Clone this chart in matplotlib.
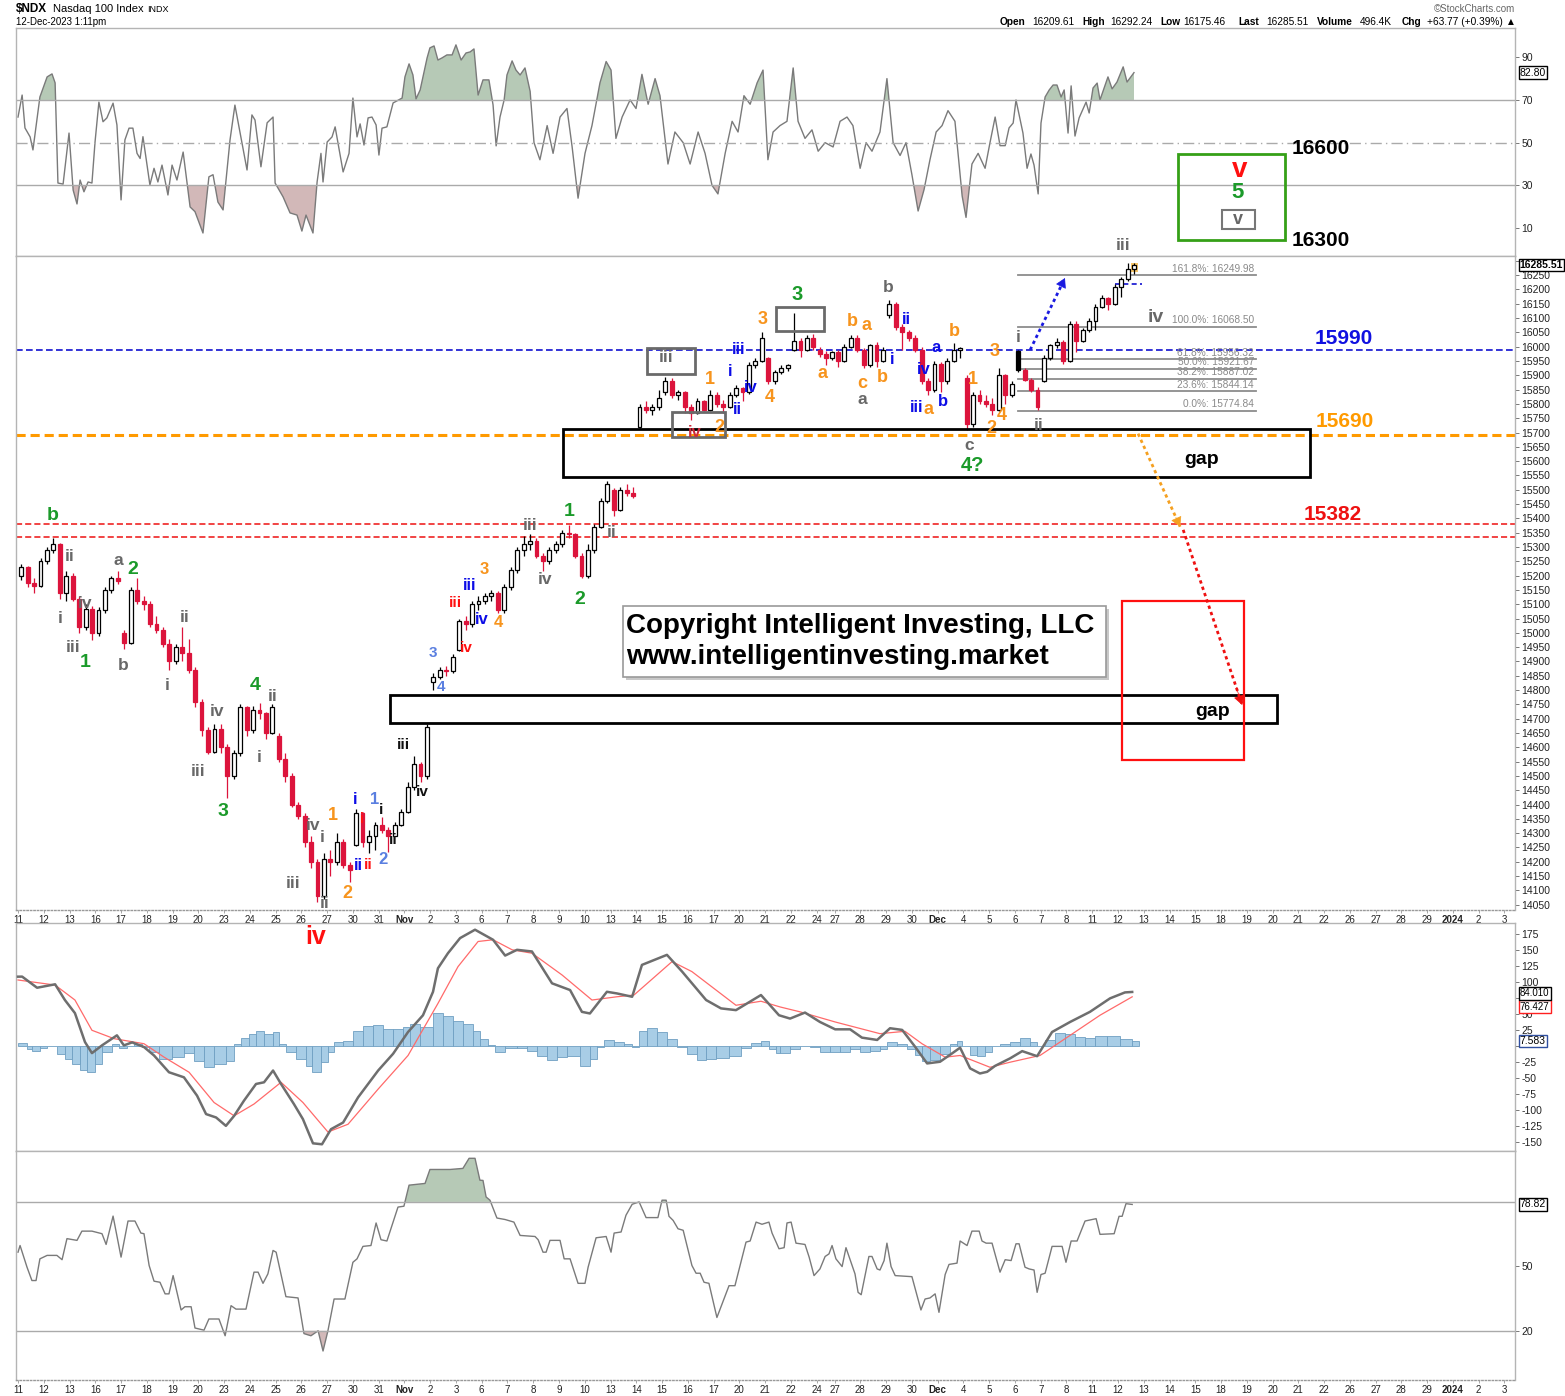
import numpy as np
import matplotlib
matplotlib.use('Agg')
import matplotlib.pyplot as plt
from matplotlib.patches import Rectangle

W, H = 1565, 1396
plt.rcParams['font.family'] = ['Liberation Sans', 'DejaVu Sans']

# ---------------- calendar (trading days) ----------------
day_labels = ['11', '12', '13', '16', '17', '18', '19', '20', '23', '24', '25', '26', '27', '30', '31',
              'Nov', '2', '3', '6', '7', '8', '9', '10', '13', '14', '15', '16', '17', '20', '21', '22',
              '24', '27', '28', '29', '30', 'Dec', '4', '5', '6', '7', '8', '11', '12',
              '13', '14', '15', '18', '19', '20', '21', '22', '26', '27', '28', '29', '2024', '2', '3']
day_lengths = [1] * 31 + [0.7] + [1] * 12 + [1] * 15
bars_per_day = [4] * 31 + [3] + [4] * 11 + [3]

# ---------------- price candles (4 per session, Nov 24 & Dec 12 partial) ----------------
opens = [15200, 15230, 15175, 15165, 15250, 15290, 15310, 15140, 15200, 15120, 15020, 15085,
         15000, 15080, 15150, 15190, 15000, 14965, 15150, 15110, 15100, 15030, 15010, 14960,
         14900, 14950, 14930, 14870, 14760, 14660, 14585, 14665, 14600, 14500, 14580, 14740,
         14660, 14730, 14720, 14650, 14640, 14560, 14500, 14400, 14360, 14270, 14200, 14080,
         14210, 14200, 14270, 14190, 14260, 14370, 14270, 14290, 14330, 14310, 14290, 14330,
         14375, 14460, 14540, 14500, 14830, 14845, 14870, 14865, 14940, 15040, 15030, 15100,
         15110, 15130, 15140, 15080, 15160, 15220, 15290, 15310, 15320, 15270, 15250, 15290,
         15310, 15350, 15345, 15270, 15200, 15290, 15370, 15460, 15500, 15430, 15500, 15490,
         15720, 15790, 15780, 15790, 15840, 15880, 15830, 15840, 15790, 15770, 15810, 15780,
         15830, 15800, 15790, 15830, 15855, 15840, 15935, 15950, 15960, 15880, 15910, 15925,
         15990, 16020, 15990, 16030, 15990, 15975, 15960, 15980, 15950, 16000, 16030,
         15990, 15935, 16005, 15950, 16110, 16150, 16070, 16050, 16030, 15990, 15880, 15850,
         15940, 15880, 15950, 15990, 15890, 15730, 15830, 15810, 15800, 15780, 15900, 15830,
         15985, 15920, 15885, 15850, 15880, 15960, 16005, 16015, 15950, 16080, 16020, 16060,
         16090, 16140, 16170, 16150, 16210, 16235, 16270]
highs = [15240, 15235, 15190, 15260, 15300, 15331, 15315, 15215, 15210, 15130, 15100, 15095,
         15090, 15160, 15200, 15215, 15010, 15160, 15190, 15130, 15110, 15060, 15020, 14980,
         14960, 15020, 14980, 14880, 14770, 14670, 14680, 14680, 14610, 14590, 14750, 14745,
         14745, 14755, 14725, 14750, 14650, 14580, 14510, 14410, 14370, 14290, 14210, 14230,
         14240, 14300, 14280, 14200, 14385, 14375, 14310, 14340, 14355, 14320, 14340, 14385,
         14480, 14570, 14550, 14680, 14860, 14880, 14885, 14925, 15050, 15060, 15110, 15130,
         15140, 15150, 15145, 15170, 15230, 15300, 15340, 15345, 15330, 15280, 15300, 15320,
         15360, 15378, 15350, 15280, 15310, 15380, 15470, 15530, 15505, 15510, 15520, 15510,
         15800, 15810, 15800, 15850, 15895, 15890, 15850, 15845, 15800, 15820, 15815, 15850,
         15840, 15815, 15840, 15865, 15860, 15945, 15960, 16052, 15965, 15920, 15935, 15940,
         16118, 16030, 16040, 16045, 16000, 15985, 15985, 15990, 16010, 16040, 16042,
         15995, 16010, 16015, 16000, 16164, 16155, 16080, 16060, 16040, 16000, 15890, 15950,
         15945, 15960, 16012, 16000, 15900, 15840, 15850, 15830, 15820, 15926, 15905, 15880,
         15990, 15925, 15890, 15860, 15970, 16010, 16030, 16025, 16090, 16090, 16065, 16100,
         16150, 16180, 16175, 16220, 16245, 16292, 16292]
lows = [15185, 15160, 15140, 15160, 15240, 15280, 15120, 15110, 15110, 15000, 15010, 14975,
        14990, 15070, 15140, 15170, 14945, 14960, 15100, 15080, 15020, 15000, 14950, 14870,
        14890, 14900, 14860, 14740, 14640, 14575, 14580, 14580, 14424, 14490, 14570, 14640,
        14650, 14700, 14630, 14645, 14550, 14480, 14390, 14350, 14250, 14180, 14060, 14070,
        14150, 14190, 14180, 14129, 14255, 14250, 14230, 14240, 14300, 14234, 14290, 14325,
        14370, 14450, 14480, 14490, 14800, 14840, 14850, 14860, 14935, 15010, 15020, 15080,
        15100, 15110, 15070, 15070, 15150, 15210, 15270, 15290, 15260, 15215, 15240, 15280,
        15300, 15330, 15260, 15190, 15190, 15280, 15365, 15455, 15410, 15425, 15480, 15470,
        15715, 15770, 15760, 15780, 15830, 15820, 15815, 15770, 15745, 15765, 15775, 15775,
        15790, 15770, 15785, 15825, 15810, 15835, 15925, 15945, 15870, 15870, 15905, 15915,
        15985, 15965, 15985, 15990, 15965, 15935, 15955, 15930, 15945, 15995, 15980,
        15926, 15930, 15930, 15945, 16100, 16060, 15990, 16020, 15980, 15870, 15832, 15840,
        15840, 15870, 15945, 15960, 15708, 15720, 15800, 15790, 15760, 15775, 15800, 15825,
        15910, 15880, 15840, 15779, 15875, 15955, 15995, 15940, 15945, 15980, 16015, 16050,
        16060, 16135, 16130, 16145, 16175, 16230, 16255]
closes = [15230, 15175, 15165, 15250, 15290, 15310, 15140, 15200, 15120, 15020, 15085, 15000,
          15080, 15150, 15190, 15180, 14965, 15150, 15110, 15100, 15030, 15010, 14960, 14900,
          14950, 14930, 14870, 14760, 14660, 14585, 14665, 14600, 14500, 14580, 14740, 14660,
          14730, 14720, 14650, 14740, 14560, 14500, 14400, 14360, 14270, 14200, 14080, 14210,
          14200, 14270, 14190, 14170, 14370, 14270, 14290, 14330, 14310, 14290, 14330, 14375,
          14460, 14540, 14500, 14670, 14845, 14870, 14865, 14915, 15040, 15030, 15100, 15110,
          15130, 15140, 15080, 15160, 15220, 15290, 15310, 15320, 15270, 15250, 15290, 15310,
          15350, 15345, 15270, 15200, 15290, 15370, 15460, 15520, 15430, 15500, 15490, 15480,
          15790, 15780, 15790, 15820, 15880, 15830, 15840, 15790, 15770, 15810, 15780, 15830,
          15800, 15790, 15830, 15855, 15840, 15935, 15950, 16030, 15880, 15910, 15925, 15935,
          16020, 15990, 16030, 16000, 15975, 15960, 15980, 15950, 16000, 16030, 15990,
          15935, 16005, 15950, 15990, 16150, 16070, 16050, 16030, 15990, 15880, 15850, 15940,
          15880, 15950, 15990, 15995, 15730, 15830, 15810, 15800, 15780, 15900, 15830, 15870,
          15920, 15885, 15850, 15790, 15960, 16005, 16015, 15950, 16080, 16020, 16060, 16090,
          16140, 16170, 16150, 16210, 16235, 16270, 16285.51]

# ---------------- RSI (top panel) : time in trading days, value ----------------
rsi_t = [0.00, 0.16, 0.27, 0.47, 0.58, 0.85, 1.13, 1.32, 1.44, 1.55, 1.75, 1.98, 2.14, 2.29, 2.41,
         2.56, 2.72, 2.87, 2.99, 3.14, 3.30, 3.45, 3.69, 3.84, 4.00, 4.15, 4.31, 4.46, 4.62, 4.74,
         4.85, 5.12, 5.28, 5.43, 5.59, 5.82, 5.98, 6.17, 6.41, 6.68, 6.87, 7.18, 7.41, 7.57, 7.76,
         7.96, 8.23, 8.42, 8.89, 9.08, 9.20, 9.43, 9.67, 9.90, 9.98, 10.29, 10.56, 10.83, 11.02,
         11.18, 11.45, 11.61, 11.76, 11.84, 12.00, 12.19, 12.31, 12.62, 12.85, 13.00, 13.16, 13.28,
         13.43, 13.59, 13.74, 13.90, 14.01, 14.13, 14.32, 14.56, 14.91, 15.02, 15.18, 15.33, 15.45,
         15.61, 15.88, 15.99, 16.15, 16.30, 16.46, 16.65, 16.85, 17.00, 17.20, 17.39, 17.55, 17.70,
         17.86, 18.05, 18.28, 18.44, 18.56, 18.71, 18.87, 18.98, 19.18, 19.33, 19.49,
         19.68, 19.88, 20.03, 20.26, 20.54, 20.77, 21.04, 21.31, 21.51, 21.74, 22.01, 22.28, 22.59,
         22.83, 23.02, 23.21, 23.45, 23.76, 23.99, 24.22, 24.46, 24.73, 24.92, 25.23, 25.50, 25.82,
         26.09, 26.40, 26.67, 26.94, 27.17, 27.45, 27.72, 27.95, 28.18, 28.42, 28.69, 28.92, 29.11,
         29.31, 29.58, 29.85, 30.09, 30.28, 30.55, 30.82, 31.06, 31.33, 31.64, 31.91, 32.18, 32.41,
         32.69, 32.92, 33.15, 33.46, 33.73, 33.97, 34.24, 34.47, 34.70, 34.94, 35.17, 35.40, 35.64,
         35.87, 36.10, 36.37, 36.65, 36.80, 37.03, 37.27, 37.54, 37.73, 37.93, 38.12, 38.32, 38.47,
         38.63, 38.74, 39.01, 39.17, 39.32, 39.44, 39.60, 39.71, 39.87, 40.03, 40.18, 40.33, 40.49,
         40.61, 40.76, 40.88, 41.03, 41.19, 41.46, 41.58, 41.73, 41.89, 42.00, 42.20, 42.31, 42.47,
         42.66, 42.90, 43.05, 43.32]
rsi_v = [62, 72.3, 56.9, 52.7, 46.6, 71.4, 80.8, 82.2, 78, 31.1, 30.6, 54.5, 27.8, 21.3, 32.5,
         27, 31.6, 31.1, 50.3, 69, 59.8, 61.6, 68.5, 58.3, 23.2, 51.3, 56.8, 56.8, 45, 42.6,
         52.8, 30.2, 38, 31.6, 39.5, 25.5, 39.5, 32.5, 45.6, 19.9, 17.7, 7.7, 34, 35, 22.2,
         18.5, 51.3, 67.6, 37.2, 63, 60.6, 38.7, 59.3, 62, 31.1, 24.6, 17.1, 16.1, 8.6,
         16.1, 7.7, 31.6, 45, 31.6, 50.3, 52.7, 57.4, 36.3, 45, 70.9, 52.7, 58.8,
         48.9, 61.6, 62, 58.3, 44.2, 56.8, 57.4, 68.6, 70.9, 80.8, 86.9, 81.7, 70.5,
         74.7, 89.7, 94.4, 95.3, 88.7, 89.7, 91.1, 91.1, 95.8, 88.7, 92, 92.5,
         93.9, 72.3, 79.4, 79.4, 67.7, 48.5, 62, 70, 81.7, 88.3, 84, 81.7,
         85, 74, 50, 42, 58, 45, 62, 66, 48, 24, 45, 58, 78,
         88, 84, 52, 62, 70, 66, 82, 68, 80, 72, 40, 55, 50,
         40, 55, 45, 30, 26, 45, 60, 55, 72, 68, 78, 84, 42,
         55, 58, 60, 85, 60, 52, 56, 46, 50, 48, 60, 62, 58,
         38, 50, 46, 55, 80, 50, 44, 50, 35, 18, 28, 42, 55,
         58, 65, 60, 25, 15, 40, 45, 38, 50, 62, 48.6, 48.6, 56.9,
         59.2, 70, 54.5, 38, 44.7, 39.5, 26, 59.2, 71.4, 74.7, 77, 77, 71.4,
         74.7, 54.5, 76.6, 53.1, 61.6, 69, 63.9, 75.6, 77.9, 70, 77, 80.8, 75.2,
         78.4, 85.5, 78.4, 82.8]

# ---------------- MACD ----------------
macd_t = [0.00, 0.16, 0.74, 1.44, 1.82, 2.21, 2.60, 2.87, 3.26, 3.84, 4.11, 4.43, 4.89, 5.28, 5.86,
          6.44, 6.95, 7.30, 7.69, 8.07, 8.39, 8.77, 9.24, 9.55, 9.90, 10.21, 10.71, 11.06, 11.45,
          11.80, 12.15, 12.62, 13.20, 13.98, 14.56, 15.14, 15.72, 16.11, 16.30, 16.69, 17.16, 17.74,
          18.44, 18.91, 19.37, 19.95, 20.73, 21.43, 21.89, 22.20, 22.86, 23.25, 23.84, 24.22, 25.19,
          25.78, 26.71, 27.29, 27.87, 28.84, 29.54, 29.97, 30.55, 31.13, 31.72, 32.30, 32.76, 33.35,
          33.85, 34.32, 34.82, 35.29, 35.79, 36.26, 36.57, 36.96, 37.34, 37.62, 37.93, 38.51, 38.98,
          39.56, 40.14, 40.84, 41.61, 42.39, 42.97, 43.25]
macd_v = [107.9, 108, 90.6, 96, 71.4, 50.9, 5.7, -11.6, 0.5, 16.2, 0.5, 5.2, -2.1, -15.3, -41.5,
          -49.4, -78.1, -106.9, -112.2, -125.3, -109.6, -86, -59.8, -57.2, -38.8, -59.8, -91.2, -114.8, -152.6,
          -154.1, -130.5, -120.1, -80.8, -38.8, -12.6, 21.4, 47.6, 84.3, 121, 144.6, 168.2, 181.3,
          165.6, 140.9, 149.9, 147.3, 97.5, 87, 52.9, 50.4, 84.3, 81.7, 76.5, 126.3, 142,
          115.8, 71.4, 58.3, 55.6, 79.2, 47.6, 42.4, 51.8, 37.1, 25.6, 25.6, 12.6, 9,
          27.3, 24.7, -1.5, -27.7, -25.1, -12, -3.1, -35.5, -43.4, -40.8, -31.5, -19.8, -8.5,
          -16.4, 21.4, 37.1, 52.9, 74, 83.3, 84.01]
signal_t = [0.00, 1.44, 2.21, 2.87, 3.73, 4.89, 5.67, 6.64, 7.61, 8.39, 9.16, 10.21, 11.06, 12.03,
            12.81, 13.98, 15.14, 16.30, 17.08, 17.86, 18.44, 19.18, 19.95, 21.12, 22.28, 23.25, 23.91,
            25.39, 26.16, 27.87, 28.84, 29.58, 30.36, 31.72, 33.46, 34.43, 35.09, 35.99, 36.57, 37.73,
            38.51, 39.67, 40.84, 42.00, 43.25]
signal_v = [102.7, 94.8, 71.4, 24.1, 11, 3.1, -17.9, -41.5, -88.8, -109.6, -91.2, -57.2, -88.8, -134.9,
            -122.8, -67.8, -15.3, 66, 123.6, 162.9, 165.6, 149.9, 144.6, 110.5, 71.4, 76.5, 79.2,
            131.5, 115.8, 63.2, 69.5, 60.6, 52.9, 37.1, 18.8, 22.5, 3.1, -17.9, -15.3, -33.7,
            -25.8, -15.3, 16.2, 47.6, 76.427]
hist_t = [0.00, 0.35, 0.54, 0.85, 1.13, 1.51, 1.82, 2.10, 2.41, 2.68, 2.99, 3.26, 3.65, 3.92, 4.23,
          4.50, 4.81, 5.09, 5.47, 5.98, 6.44, 6.83, 7.22, 7.61, 8.07, 8.39, 8.66, 8.97, 9.24, 9.55,
          9.90, 10.13, 10.40, 10.79, 11.18, 11.41, 11.76, 12.03, 12.27, 12.62, 13.00, 13.39, 13.78,
          14.17, 14.56, 14.95, 15.22, 15.61, 16.11, 16.50, 16.89, 17.27, 17.66, 17.93, 18.25, 18.52,
          18.91, 19.37, 19.76, 20.15, 20.54, 20.92, 21.31, 21.82, 22.20, 22.48, 22.75, 23.14, 23.52,
          23.84, 24.11, 24.42, 24.81, 25.19, 25.58, 25.97, 26.36, 26.71, 27.10, 27.60, 28.07, 28.45,
          28.84, 29.15, 29.43, 29.58, 29.97, 30.36, 30.75, 31.13, 31.52, 31.91, 32.30, 32.69, 33.07,
          33.46, 33.73, 34.12, 34.51, 34.82, 35.09, 35.40, 35.79, 36.18, 36.46, 36.65, 36.96, 37.23,
          37.54, 37.81, 38.12, 38.51, 38.90, 39.29, 39.56, 39.87, 40.26, 40.65, 41.03, 41.42, 41.81,
          42.27, 42.78, 43.25]
hist_v = [5, -5, -9, -3, 0, -12.6, -21, -29, -37.7, -41, -29, -10.5, 2.6, -4, -1,
          2.6, -2.6, -10.5, -21, -18.3, -11.5, -23.6, -34, -28.8, -23.6, 2.6, 11.5, 18.3, 23.6, 18.3,
          21, 2.6, -10.5, -21, -31.4, -40.9, -26.2, -10.5, 5.2, 7.9, 23.6, 31.4, 32.5,
          26.2, 26.2, 28.8, 34, 28.8, 51.4, 47.2, 39.3, 34, 23.6, 10.5, 1, -10.5,
          -4.2, -4.2, -7.9, -15.7, -22, -18.3, -15.7, -31.4, -21, -2.6, 9.4, 5.2, 2.6,
          -2.6, 23.6, 27.3, 22, 10.5, -2.6, -13, -22, -21, -20, -15.7, -4.2, 4.2,
          7.9, -5.2, -11.5, -11.5, -5.2, 0, -2.6, -9.4, -10.5, -9.4, -5.2, -10.5, -7.9,
          -5.2, 6.3, 2.6, -5.2, -14.7, -23.6, -22, -13, 2.6, 7.9, -1, -14.7, -16.8,
          -10.5, 0, 2.6, 6.3, 11.5, 6.3, 0, 9.4, 19.9, 18.3, 13, 12.6, 15.7,
          14.7, 10.5, 7.583]

# ---------------- lower oscillator panel ----------------
osc_t = [0.00, 0.08, 0.35, 0.54, 0.70, 0.85, 1.13, 1.51, 1.71, 1.90, 2.29, 2.48, 2.87, 3.26, 3.42,
         3.69, 4.00, 4.27, 4.54, 4.77, 4.89, 5.09, 5.28, 5.51, 5.71, 5.86, 6.02, 6.33, 6.48, 6.72,
         6.87, 7.22, 7.41, 7.80, 8.04, 8.27, 8.46, 8.85, 9.16, 9.32, 9.51, 9.70, 9.90, 10.02, 10.40,
         10.87, 11.10, 11.37, 11.65, 11.84, 12.03, 12.27, 12.69, 13.00, 13.16, 13.39, 13.70, 13.90,
         14.09, 14.32, 14.75, 14.98, 15.18, 15.80, 15.99, 16.77, 17.27, 17.51, 17.74, 17.93, 18.05,
         18.17, 18.32, 18.59, 18.91, 19.25, 19.49, 20.07, 20.19, 20.38, 20.50, 20.65, 21.04, 21.20,
         21.43, 21.74, 22.01, 22.13, 22.44, 22.83, 23.02, 23.14, 23.41, 23.60, 23.84, 24.11, 24.38,
         24.84, 25.00, 25.16, 25.27, 25.43, 25.62, 25.82, 26.16, 26.32, 26.48, 26.63, 26.82, 27.13,
         27.60, 27.83, 28.26, 28.42, 28.65, 28.88, 29.15, 29.27, 29.54, 29.74, 29.85, 30.01, 30.20,
         30.55, 30.71, 30.90, 31.13, 31.33, 31.48, 31.60, 31.75, 31.99, 32.14, 32.49, 32.61, 32.73,
         33.03, 33.15, 33.35, 33.46, 33.62, 33.73, 33.89, 34.05, 34.70, 35.05, 35.21, 35.40, 35.60,
         35.75, 35.99, 36.14, 36.45, 36.57, 36.84, 37.03, 37.31, 37.42, 37.58, 37.81, 38.12, 38.32,
         38.55, 38.74, 38.86, 39.09, 39.25, 39.44, 39.56, 39.71, 39.87, 40.14, 40.53, 40.68, 40.88,
         41.11, 41.42, 41.85, 42.00, 42.55, 42.74, 42.86, 43.01, 43.25]
osc_v = [56.6, 59.7, 49.6, 43.4, 43.4, 53.5, 55.1, 55.1, 53.1, 62.9, 62.1, 66.4, 66.4, 65.2, 60.2,
         73.4, 54.3, 71.1, 71.1, 65.5, 65.2, 50.4, 43.1, 42.6, 37.2, 37.2, 45.7, 29.7, 31.2, 31.2,
         21.3, 20.3, 25.5, 25.5, 17.7, 31.7, 30.1, 30.1, 47.3, 47.3, 42.1, 46.5, 57.4, 56.6, 35.9,
         35.3, 18.7, 17.7, 20, 10.6, 20, 34.8, 34.8, 51.9, 53.5, 59.3, 59.7, 70.2,
         62.4, 61.8, 77.6, 78, 87.8, 88.6, 95.1, 95.1, 95.6, 100.3, 100.3, 90.1, 90,
         82.3, 80.8, 72.5, 71.8, 70.6, 64.4, 63.9, 62.4, 56.6, 56.6, 62.1, 62.1, 53.5,
         53.5, 42.1, 42.1, 49.6, 63.3, 63.9, 56.6, 65.5, 66, 73.8, 78.9, 80, 72.7,
         72.7, 80.8, 80.8, 73.3, 71.4, 67.5, 66.8, 50.4, 46.8, 46.8, 42.6, 42.1, 26.2,
         41, 41, 61.3, 61.8, 70.6, 69.6, 70.6, 65.5, 58.2, 58.7, 70.2, 70.6, 60.8,
         60.2, 54.3, 45.7, 48.8, 54.6, 55.8, 59.7, 53.5, 49.9, 58.7, 46.5, 37.9, 36.8,
         54.6, 54.6, 48.8, 48.3, 52.7, 60.8, 49.9, 45.7, 45.2, 29.7, 34.8, 35.3, 37.2,
         28.6, 46.2, 50.9, 51.5, 61.8, 59.7, 66.4, 66.4, 61.8, 60.8, 60.8, 47.3, 53.1,
         52.7, 60.5, 60.5, 49.6, 48.8, 48.3, 37.9, 46.2, 46.8, 59.3, 59.3, 51.9, 61.8,
         61.8, 71.1, 72.2, 64.9, 65.2, 73.3, 73.3, 79.2, 78.82]

# ---------------- levels ----------------
fib_pct = ['161.8%', '100.0%', '61.8%', '50.0%', '38.2%', '23.6%', '0.0%']
fib_val = [16249.98, 16068.50, 15956.32, 15921.67, 15887.02, 15844.14, 15774.84]
blue_level, orange_level, red_levels = 15990, 15690, [15382, 15335]
gap_upper = (15545, 15712)
gap_lower = (14685, 14783)
target_low = (14556, 15111)

# ===================================================================
fig = plt.figure(figsize=(W / 100, H / 100), dpi=100)
fig.patch.set_facecolor('white')


def axes_px(top, bottom, left=16, right=1515):
    return fig.add_axes([left / W, 1 - bottom / H, (right - left) / W, (bottom - top) / H])


def ft(x, y, s, **kw):
    return fig.text(x / W, 1 - y / H, s, **kw)


def frect(x0, y0, x1, y1, **kw):
    r = Rectangle((x0 / W, 1 - y1 / H), (x1 - x0) / W, (y1 - y0) / H, transform=fig.transFigure, **kw)
    fig.add_artist(r)
    return r


ax_rsi = axes_px(28, 256)
ax = axes_px(256, 910)
ax_macd = axes_px(923, 1151)
ax_low = axes_px(1151, 1380)

XMIN, XMAX = -0.078, 58.11
SPINE = '#b4b4b4'
for a in (ax_rsi, ax, ax_macd, ax_low):
    a.set_xlim(XMIN, XMAX)
    for s in a.spines.values():
        s.set_color(SPINE)
        s.set_linewidth(1)
    a.yaxis.tick_right()
    a.tick_params(axis='y', labelsize=7.5, length=3, width=0.7, color='#777777', pad=1.5,
                  labelcolor='#222222')
    a.set_xticks([])

day_starts = np.concatenate([[0.0], np.cumsum(day_lengths)[:-1]])

for a in (ax, ax_low):
    a.set_xticks(day_starts)
    a.set_xticklabels(day_labels)
    a.tick_params(axis='x', length=2, width=0.6, color='#999999', labelsize=7, pad=1.5, labelcolor='#222222')
    for lab in a.get_xticklabels():
        if lab.get_text() in ('Nov', 'Dec', '2024'):
            lab.set_fontweight('bold')
    a.spines['bottom'].set_linestyle((0, (1, 1.5)))
    a.spines['bottom'].set_color('#999999')

# ---------------- RSI top ----------------
ax_rsi.set_ylim(-3.07, 103.7)
rt = np.array(rsi_t)
rv = np.array(rsi_v)
ax_rsi.fill_between(rt, rv, 70, where=rv >= 70, interpolate=True, color='#b6c9b6', lw=0)
ax_rsi.fill_between(rt, rv, 30, where=rv <= 30, interpolate=True, color='#d2b8b8', lw=0)
ax_rsi.plot(rt, rv, color='#7a7a7a', lw=1)
for lv in (70, 30):
    ax_rsi.axhline(lv, color='#aaaaaa', lw=1)
ax_rsi.axhline(50, color='#aaaaaa', lw=1, ls=(0, (8, 3, 1, 3)))
ax_rsi.set_yticks([10, 30, 50, 70, 90])

# ---------------- main price ----------------
ax.set_ylim(14031.5, 16317)
pticks = np.arange(14050, 16301, 50)
ax.set_yticks(pticks)
ax.set_yticklabels([str(v) if v != 16300 else '' for v in pticks])

cx = []
for i, n in enumerate(bars_per_day):
    sp = day_lengths[i] / n if i == 31 else 0.25
    for k in range(n):
        cx.append(day_starts[i] + (k + 0.5) * sp)
cx = np.array(cx)

RED = '#dc143c'
bw = 0.15
for i in range(len(closes)):
    o, h, l, c = opens[i], highs[i], lows[i], closes[i]
    pc = closes[i - 1] if i > 0 else o
    col = RED if c < pc else 'black'
    hollow = c >= o
    ax.vlines(cx[i], l, h, color=col, lw=0.9, zorder=3)
    bot = min(o, c)
    hgt = max(abs(c - o), 3)
    ax.add_patch(Rectangle((cx[i] - bw / 2, bot), bw, hgt, facecolor='white' if hollow else col,
                           edgecolor=col, lw=0.9, zorder=4))
# last bar highlight
ax.add_patch(Rectangle((cx[-1] - 0.14, lows[-1] + 5), 0.28, highs[-1] - lows[-1] - 3,
                       facecolor='#f8c66a', edgecolor='none', zorder=2))

ax.axhline(blue_level, color='#1010d0', lw=1.2, ls=(0, (4, 2)), zorder=2)
ax.axhline(orange_level, color='#ff9a00', lw=2.2, ls=(0, (3, 1.6)), zorder=2)
for lv in red_levels:
    ax.axhline(lv, color='#ee1111', lw=1.1, ls=(0, (4, 2)), zorder=2)

# fib retracement lines
fx0, fx1 = 38.82, 48.06
for p, v in zip(fib_pct, fib_val):
    ax.plot([fx0, fx1], [v, v], color='#8c8c8c', lw=1.3, zorder=2)
    ax.annotate(f'{p}: {v:.2f}', xy=(47.98, v), xytext=(0, 1.2), textcoords='offset points',
                ha='right', va='bottom', fontsize=7.3, color='#8a8a8a', zorder=5)
ax.plot([42.59, 43.63], [16219, 16219], color='#1010d0', lw=1.2, ls=(0, (3, 2)), zorder=2)

# gap boxes & target box
ax.add_patch(Rectangle((21.16, gap_upper[0]), 50.16 - 21.16, gap_upper[1] - gap_upper[0],
                       fill=False, ec='black', lw=2, zorder=5))
ax.add_patch(Rectangle((14.44, gap_lower[0]), 48.87 - 14.44, gap_lower[1] - gap_lower[0],
                       fill=False, ec='black', lw=2, zorder=5))
ax.add_patch(Rectangle((42.86, target_low[0]), 47.59 - 42.86, target_low[1] - target_low[0],
                       fill=False, ec='#ff1010', lw=1.6, zorder=5))


# arrows (dotted shafts + solid heads)
def dotted_arrow(p0, p1, color, lw=2.0):
    ax.plot([p0[0], p1[0]], [p0[1], p1[1]], color=color, lw=lw, ls=(0, (1.2, 1.2)), zorder=6)
    fx = p0[0] + 0.9 * (p1[0] - p0[0])
    fy = p0[1] + 0.9 * (p1[1] - p0[1])
    ax.annotate('', xy=p1, xytext=(fx, fy),
                arrowprops=dict(arrowstyle='-|>,head_length=0.6,head_width=0.35', color=color, lw=0.5,
                                shrinkA=0, shrinkB=0), zorder=7)


dotted_arrow((39.29, 15989), (40.64, 16240), '#1a1ae0')
dotted_arrow((43.48, 15696), (45.11, 15371), '#f5a020')
dotted_arrow((45.23, 15360), (47.52, 14748), '#ee1111')

# ---------------- MACD ----------------
ax_macd.set_ylim(-164.6, 191.8)
ht = np.array(hist_t)
hv = np.array(hist_v)
hw = np.append(np.diff(ht), 0.25)
ax_macd.bar(ht, hv, width=hw, align='edge', color='#a8cde6', edgecolor='#6f9fc2', lw=0.6, zorder=2)
ax_macd.plot(signal_t, signal_v, color='#ff6a6a', lw=0.9, zorder=3)
ax_macd.plot(macd_t, macd_v, color='#6e6e6e', lw=1.8, zorder=4)
mticks = np.arange(-150, 176, 25)
ax_macd.set_yticks(mticks)
ax_macd.set_yticklabels([str(v) if v not in (0, 75) else '' for v in mticks])

# ---------------- lower oscillator ----------------
ax_low.set_ylim(-2.9, 103.7)
ot = np.array(osc_t)
ov = np.array(osc_v)
ax_low.fill_between(ot, ov, 80, where=ov >= 80, interpolate=True, color='#b6c9b6', lw=0)
ax_low.fill_between(ot, ov, 20, where=ov <= 20, interpolate=True, color='#d2b8b8', lw=0)
ax_low.plot(ot, ov, color='#7a7a7a', lw=1)
for lv in (80, 20):
    ax_low.axhline(lv, color='#aaaaaa', lw=1)
ax_low.set_yticks([20, 50])


# ---------------- right-side value tags ----------------
def tag(a, y, text, edge, weight='normal', dy=0, fs=7.5):
    a.annotate(text, xy=(1, y), xycoords=('axes fraction', 'data'), xytext=(3.5, dy),
               textcoords='offset points', ha='left', va='center', fontsize=fs, fontweight=weight,
               bbox=dict(boxstyle='square,pad=0.12', fc='white', ec=edge, lw=1), annotation_clip=False,
               zorder=10)


tag(ax_rsi, 82.80, '82.80', 'black')
tag(ax, 16285.51, '16285.51', 'black', 'bold')
tag(ax_macd, 76.427, '76.427', '#ff2020', dy=-7, fs=7)
tag(ax_macd, 84.010, '84.010', 'black', dy=-1, fs=7)
tag(ax_macd, 7.583, '7.583', '#3050a0')
tag(ax_low, 78.82, '78.82', 'black')

# ---------------- header ----------------
ft(16, 9, '$NDX', fontsize=8.5, fontweight='bold', va='center')
ft(53, 9, 'Nasdaq 100 Index', fontsize=8, va='center')
ft(147, 9.5, 'INDX', fontsize=6.5, va='center')
ft(16, 22, '12-Dec-2023 1:11pm', fontsize=7, va='center')
ft(1515, 9, '\u00a9StockCharts.com', fontsize=7, va='center', ha='right', color='#666666')
hdr = [(1000, 'Open', True), (1032, '16209.61', False), (1082, 'High', True), (1110, '16292.24', False),
       (1160, 'Low', True), (1183, '16175.46', False), (1238, 'Last', True), (1266, '16285.51', False),
       (1317, 'Volume', True), (1360, '496.4K', False), (1402, 'Chg', True), (1427, '+63.77 (+0.39%)', False)]
for x, s, b in hdr:
    ft(x, 22, s, fontsize=7.3, fontweight='bold' if b else 'normal', va='center')
ft(1508, 22, '\u25b2', fontsize=5.5, va='center', family=['DejaVu Sans'])

# ---------------- annotation boxes ----------------
frect(1178, 154, 1285, 240, fill=False, ec='#35a017', lw=2, zorder=8)
frect(1222, 210, 1255, 229, fill=False, ec='#777777', lw=1.5, zorder=8)
for (x0, y0, x1, y1) in [(647, 348, 695, 374), (672, 412, 725, 437), (776, 307, 824, 331)]:
    frect(x0, y0, x1, y1, fill=False, ec='#6a6a6a', lw=2, zorder=8)
frect(626, 609, 1109, 680, fc='#c8c8c8', ec='none', zorder=8)
frect(623, 606, 1106, 677, fc='white', ec='#9a9a9a', lw=1.2, zorder=9)
ft(626, 626, 'Copyright Intelligent Investing, LLC', fontsize=20, fontweight='bold', va='center', zorder=10)
ft(626, 657, 'www.intelligentinvesting.market', fontsize=20, fontweight='bold', va='center', zorder=10)

# ---------------- wave labels ----------------
G, GR, O, B, LB, R, K = '#1b9a2a', '#686868', '#f7941d', '#0c0ce6', '#5a7fe0', '#ff1111', '#111111'
labels = [
    (53, 516, 'b', G, 14), (70, 557, 'ii', GR, 12.5), (118, 561, 'a', GR, 12.5), (133, 570, '2', G, 14),
    (60, 619, 'i', GR, 12.5), (85, 603, 'iv', GR, 12.5), (73, 648, 'iii', GR, 12.5), (85, 662, '1', G, 14),
    (123, 665, 'b', GR, 12.5), (167, 686, 'i', GR, 12.5), (185, 617, 'ii', GR, 12.5), (198, 772, 'iii', GR, 12.5),
    (217, 712, 'iv', GR, 12.5), (223, 812, '3', G, 14), (255, 685, '4', G, 14), (273, 697, 'ii', GR, 12.5),
    (259, 758, 'i', GR, 12.5), (313, 825, 'iv', GR, 12.5), (293, 883, 'iii', GR, 12.5), (325, 903, 'ii', GR, 12.5),
    (322, 838, 'i', GR, 12.5), (333, 815, '1', O, 13), (347, 893, '2', O, 13), (355, 800, 'i', B, 12),
    (362, 819, 'i', R, 10), (358, 865, 'ii', B, 12), (368, 865, 'ii', R, 11), (375, 800, '1', LB, 12),
    (381, 810, 'i', K, 11), (383, 860, '2', LB, 12), (393, 840, 'ii', K, 11), (403, 745, 'iii', K, 11),
    (422, 792, 'iv', K, 11), (433, 653, '3', LB, 11), (441, 687, '4', LB, 11), (455, 603, 'iii', R, 11),
    (466, 648, 'iv', R, 11), (470, 585, 'iii', B, 12), (482, 620, 'iv', B, 12), (484, 570, '3', O, 12),
    (498, 623, '4', O, 12), (530, 526, 'iii', GR, 12.5), (545, 579, 'iv', GR, 12.5), (569, 512, '1', G, 14),
    (580, 600, '2', G, 14), (612, 533, 'ii', GR, 12.5), (666, 358, 'iii', GR, 12.5), (695, 432, 'iv', '#cc2a3a', 12),
    (719, 427, '2', O, 13), (710, 380, '1', O, 13), (730, 372, 'i', B, 12), (737, 409, 'ii', B, 12),
    (739, 350, 'iii', B, 12), (751, 388, 'iv', B, 12), (763, 320, '3', O, 13), (770, 398, '4', O, 13),
    (797, 294, '3', G, 14.5), (823, 373, 'a', O, 13), (852, 321, 'b', O, 13), (867, 325, 'a', O, 13),
    (862, 384, 'c', O, 13), (862, 400, 'a', GR, 12.5), (882, 378, 'b', O, 13), (888, 288, 'b', GR, 12.5),
    (906, 320, 'ii', B, 12), (892, 360, 'i', B, 12), (924, 370, 'iv', B, 12), (917, 407, 'iii', B, 12),
    (929, 410, 'a', O, 13), (936, 347, 'a', B, 12), (943, 402, 'b', B, 12), (954, 331, 'b', O, 13),
    (973, 380, '1', O, 13), (969, 445, 'c', GR, 12.5), (972, 465, '4?', G, 14.5), (995, 352, '3', O, 13),
    (991, 428, '2', O, 13), (1002, 415, '4', O, 13), (1018, 337, 'i', GR, 12.5), (1039, 425, 'ii', GR, 12.5),
    (1156, 317, 'iv', GR, 14), (1123, 246, 'iii', GR, 12.5),
]
for x, y, s, c, fs in labels:
    ft(x, y, s, color=c, fontsize=fs, fontweight='bold', ha='center', va='center', zorder=11)

ft(1240, 170, 'v', color='#ff1010', fontsize=20, fontweight='bold', ha='center', va='center')
ft(1238, 192, '5', color='#1b9a2a', fontsize=16, fontweight='bold', ha='center', va='center')
ft(1238, 219, 'v', color='#666666', fontsize=13, fontweight='bold', ha='center', va='center')
ft(1292, 149, '16600', fontsize=15, fontweight='bold', va='center')
ft(1292, 240, '16300', fontsize=15, fontweight='bold', va='center')
ft(1344, 339, '15990', color='#1010e0', fontsize=15, fontweight='bold', ha='center', va='center')
ft(1345, 422, '15690', color='#ff9a00', fontsize=15, fontweight='bold', ha='center', va='center')
ft(1333, 515, '15382', color='#ee1111', fontsize=15, fontweight='bold', ha='center', va='center')
ft(1202, 460, 'gap', fontsize=14, fontweight='bold', ha='center', va='center')
ft(1213, 712, 'gap', fontsize=14, fontweight='bold', ha='center', va='center')
ft(316, 937, 'iv', color='#ff1010', fontsize=18, fontweight='bold', ha='center', va='center')

fig.savefig('out.png', dpi=100)
